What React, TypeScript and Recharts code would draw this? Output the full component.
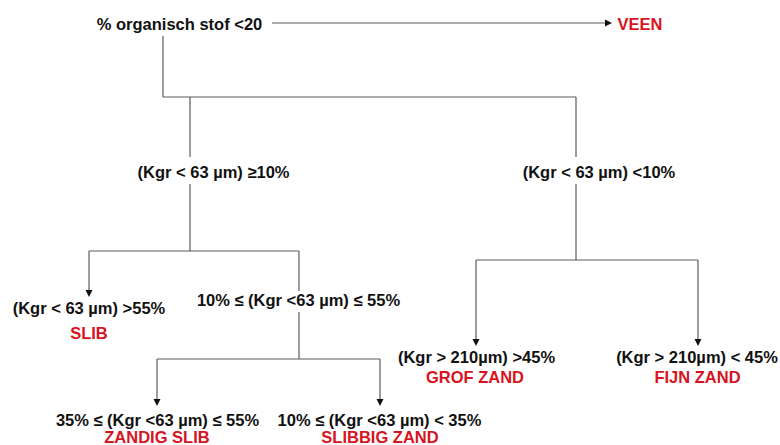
import React from "react";
import { ComposedChart, XAxis, YAxis, Scatter, ReferenceLine } from "recharts";

// Condition (black) labels: text, centre x, centre y
const conditionLabels = [
  "% organisch stof <20",
  "(Kgr < 63 µm) ≥10%",
  "(Kgr < 63 µm) <10%",
  "(Kgr < 63 µm) >55%",
  "10% ≤ (Kgr <63 µm) ≤ 55%",
  "35% ≤ (Kgr <63 µm) ≤ 55%",
  "10% ≤ (Kgr <63 µm) < 35%",
  "(Kgr > 210µm) >45%",
  "(Kgr > 210µm) < 45%",
];
const conditionX = [179.5, 213.5, 599, 89, 298.5, 157.5, 379.5, 476.5, 697];
const conditionY = [24, 172, 172, 308, 300, 420, 420, 357, 357];

// Class (red) labels
const classLabels = ["VEEN", "SLIB", "ZANDIG SLIB", "SLIBBIG ZAND", "GROF ZAND", "FIJN ZAND"];
const classX = [640, 89, 157, 380, 475, 697.5];
const classY = [24, 333, 437, 437, 377, 377];

// Connector segments: [x1, y1, x2, y2]
const edges: number[][] = [
  [272, 23, 607, 23],
  [163, 36, 163, 97],
  [163, 97, 576, 97],
  [190, 97, 190, 157],
  [190, 184, 190, 251],
  [89, 251, 299, 251],
  [89, 251, 89, 291],
  [299, 251, 299, 291],
  [576, 97, 576, 157],
  [576, 184, 576, 260],
  [476, 260, 698, 260],
  [476, 260, 476, 340],
  [698, 260, 698, 340],
  [299, 312, 299, 359],
  [157, 359, 380, 359],
  [157, 359, 157, 400],
  [380, 359, 380, 400],
];

// Arrow tips: x, y, direction
const arrowX = [612, 89, 476, 698, 157, 380];
const arrowY = [23, 297, 346, 346, 406, 406];
const arrowDir = ["right", "down", "down", "down", "down", "down"];

const conditionData = conditionLabels.map((label, i) => ({ x: conditionX[i], y: conditionY[i], label }));
const classData = classLabels.map((label, i) => ({ x: classX[i], y: classY[i], label }));
const arrowData = arrowX.map((x, i) => ({ x, y: arrowY[i], dir: arrowDir[i] }));

const FONT = "'Liberation Sans', Arial, Helvetica, sans-serif";

const makeText = (color: string) => (props: any) => {
  const { cx, cy, payload } = props;
  if (cx == null || cy == null) return <g />;
  return (
    <text
      x={cx}
      y={cy}
      textAnchor="middle"
      dominantBaseline="central"
      fontFamily={FONT}
      fontWeight="bold"
      fontSize={16.5}
      fill={color}
    >
      {payload.label}
    </text>
  );
};

const ArrowShape = (props: any) => {
  const { cx, cy, payload } = props;
  if (cx == null || cy == null) return <g />;
  const pts =
    payload.dir === "right"
      ? `${cx},${cy} ${cx - 7},${cy - 3.5} ${cx - 7},${cy + 3.5}`
      : `${cx},${cy} ${cx - 3.5},${cy - 7} ${cx + 3.5},${cy - 7}`;
  return <polygon points={pts} fill="#111" />;
};

export default function App() {
  return (
    <div style={{ position: "absolute", left: 0, top: 0, width: 780, height: 445, background: "#fff" }}>
      <ComposedChart width={780} height={445} margin={{ top: 0, right: 0, bottom: 0, left: 0 }}>
        <XAxis type="number" dataKey="x" domain={[0, 780]} hide allowDataOverflow />
        <YAxis type="number" dataKey="y" domain={[0, 445]} reversed hide allowDataOverflow />
        {edges.map((e, i) => (
          <ReferenceLine
            key={i}
            segment={[{ x: e[0], y: e[1] }, { x: e[2], y: e[3] }]}
            stroke="#5a5a5a"
            strokeWidth={1.2}
            ifOverflow="visible"
          />
        ))}
        <Scatter data={arrowData} shape={ArrowShape} isAnimationActive={false} />
        <Scatter data={conditionData} shape={makeText("#111111")} isAnimationActive={false} />
        <Scatter data={classData} shape={makeText("#d7141e")} isAnimationActive={false} />
      </ComposedChart>
    </div>
  );
}
